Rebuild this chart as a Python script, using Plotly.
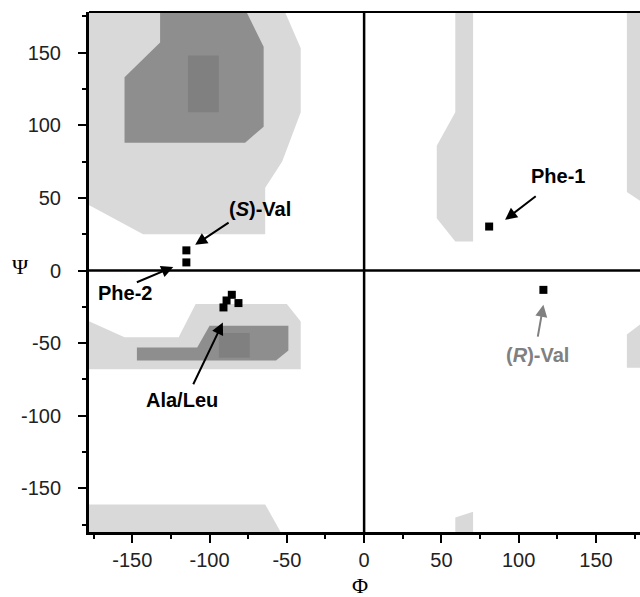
import plotly.graph_objects as go

# ---------------- data (phi, psi in degrees) ----------------
# allowed-region polygons
beta_light_phi = [-180, -52, -41, -41, -53, -64, -64, -143, -176, -180]
beta_light_psi = [180, 180, 153, 109, 75, 57, 25, 25, 44, 46]
beta_mid_phi = [-132, -77, -65, -65, -77, -155, -155, -132]
beta_mid_psi = [180, 180, 154, 99, 88, 88, 133, 157]
beta_dark_phi = [-114, -94, -94, -114]
beta_dark_psi = [148, 148, 109, 109]

alpha_light_phi = [-180, -155, -120, -109, -50, -41, -41, -180]
alpha_light_psi = [-34, -46, -46, -23, -23, -35, -68, -68]
alpha_mid_phi = [-147, -108, -100, -49, -49, -57, -147]
alpha_mid_psi = [-53, -53, -38, -38, -55, -62, -62]
alpha_dark_phi = [-94, -74, -74, -94]
alpha_dark_psi = [-43, -43, -60, -60]

bottom_light_phi = [-180, -64, -54, -180]
bottom_light_psi = [-161, -161, -180, -180]

band_phi = [59, 70.5, 70.5, 59, 47, 47, 59]
band_psi = [180, 180, 20, 20, 36, 86, 109]
band_bottom_phi = [59, 70.5, 70.5, 59]
band_bottom_psi = [-170, -166, -180, -180]

edge_upper_phi = [170, 180, 180, 170]
edge_upper_psi = [180, 180, 47, 54]
edge_lower_phi = [170, 180, 180, 170]
edge_lower_psi = [-44, -36, -67, -67]

# residues
sval_phi = [-115, -115]
sval_psi = [13.9, 5.6]
ala_phi = [-91, -89, -85.6, -81.3]
ala_psi = [-25.4, -20.6, -16.7, -22.4]
phe1_phi = [80.9]
phe1_psi = [30.3]
rval_phi = [116]
rval_psi = [-13.3]

# ticks
tick_vals = [-150, -100, -50, 0, 50, 100, 150]
tick_text = ["-150", "-100", "-50", "0", "50", "100", "150"]
minor_vals = [-175, -125, -75, -25, 25, 75, 125, 175]

LIGHT = "#d9d9d9"
MID = "#8e8e8e"
DARK = "#808080"

fig = go.Figure()


def region(px, py, color):
    fig.add_trace(go.Scatter(x=px, y=py, mode="lines", fill="toself",
                             fillcolor=color, line=dict(width=0, color=color),
                             hoverinfo="skip", showlegend=False))


for px, py in [(beta_light_phi, beta_light_psi), (alpha_light_phi, alpha_light_psi),
               (bottom_light_phi, bottom_light_psi), (band_phi, band_psi),
               (band_bottom_phi, band_bottom_psi), (edge_upper_phi, edge_upper_psi),
               (edge_lower_phi, edge_lower_psi)]:
    region(px, py, LIGHT)
region(beta_mid_phi, beta_mid_psi, MID)
region(alpha_mid_phi, alpha_mid_psi, MID)
region(beta_dark_phi, beta_dark_psi, DARK)
region(alpha_dark_phi, alpha_dark_psi, DARK)

for px, py in [(sval_phi, sval_psi), (ala_phi, ala_psi), (phe1_phi, phe1_psi), (rval_phi, rval_psi)]:
    fig.add_trace(go.Scatter(x=px, y=py, mode="markers",
                             marker=dict(symbol="square", size=8, color="black"),
                             hoverinfo="skip", showlegend=False))

# zero lines and top border
fig.add_shape(type="line", xref="x", yref="paper", x0=0, x1=0, y0=0, y1=1,
              line=dict(color="black", width=2.5), layer="above")
fig.add_shape(type="line", xref="paper", yref="y", x0=0, x1=1, y0=0, y1=0,
              line=dict(color="black", width=2.5), layer="above")
fig.add_shape(type="line", xref="paper", yref="paper", x0=0, x1=1, y0=1, y1=1,
              line=dict(color="black", width=2), layer="above")

FAM = "Liberation Sans, Arial, sans-serif"


def label(x, y, text, color="black"):
    fig.add_annotation(x=x, y=y, xref="x", yref="y", text=text, showarrow=False,
                       font=dict(family=FAM, size=20, color=color))


def arrow(x0, y0, x1, y1, color="black"):
    fig.add_annotation(x=x1, y=y1, ax=x0, ay=y0, xref="x", yref="y", axref="x", ayref="y",
                       text="", showarrow=True, arrowhead=2, arrowsize=1.2,
                       arrowwidth=2, arrowcolor=color)


label(-155, -15.3, "<b>Phe-2</b>")
arrow(-148, -8.5, -123.5, 2.5)
label(-67.6, 42.4, "<b>(<i>S</i>)-Val</b>")
arrow(-86.7, 33.7, -109.3, 17.7)
label(-118, -89, "<b>Ala/Leu</b>")
arrow(-111, -79.3, -91.4, -35.8)
label(125.7, 65.3, "<b>Phe-1</b>")
arrow(112, 52, 91.2, 34.9)
label(112.2, -58, "<b>(<i>R</i>)-Val</b>", color="#808080")
arrow(112.2, -46.5, 116, -23.6, color="#808080")

# axis titles
fig.add_annotation(x=-2.6, xref="x", y=-0.103, yref="paper", text="Φ", showarrow=False,
                   xanchor="center", yanchor="middle",
                   font=dict(family="Liberation Serif, Times New Roman, serif", size=22, color="black"))
fig.add_annotation(x=-0.125, xref="paper", y=2.5, yref="y", text="Ψ", showarrow=False,
                   xanchor="center", yanchor="middle",
                   font=dict(family="Liberation Serif, Times New Roman, serif", size=22, color="black"))

axis_common = dict(showgrid=False, zeroline=False, showline=True, linewidth=3, linecolor="black",
                   ticks="outside", ticklen=8, tickwidth=2, tickcolor="black",
                   tickvals=tick_vals, ticktext=tick_text, automargin=False,
                   tickfont=dict(family=FAM, size=20, color="#222222"),
                   minor=dict(tickmode="array", tickvals=minor_vals,
                              ticks="outside", ticklen=4, tickwidth=2, tickcolor="black"))

fig.update_xaxes(range=[-178, 178.5], ticklabelstandoff=0, **axis_common)
fig.update_yaxes(range=[-180, 178], ticklabelstandoff=13, **axis_common)

fig.update_layout(width=640, height=597, margin=dict(l=89, r=0, t=12, b=65),
                  plot_bgcolor="white", paper_bgcolor="white", showlegend=False)

# remove the default page margin so the figure fills the window exactly
fig.write_html("out.html",
               config={"displayModeBar": False, "staticPlot": True},
               post_script="document.body.style.margin='0';"
                           "document.body.style.overflow='hidden';"
                           "document.documentElement.style.overflow='hidden';")
